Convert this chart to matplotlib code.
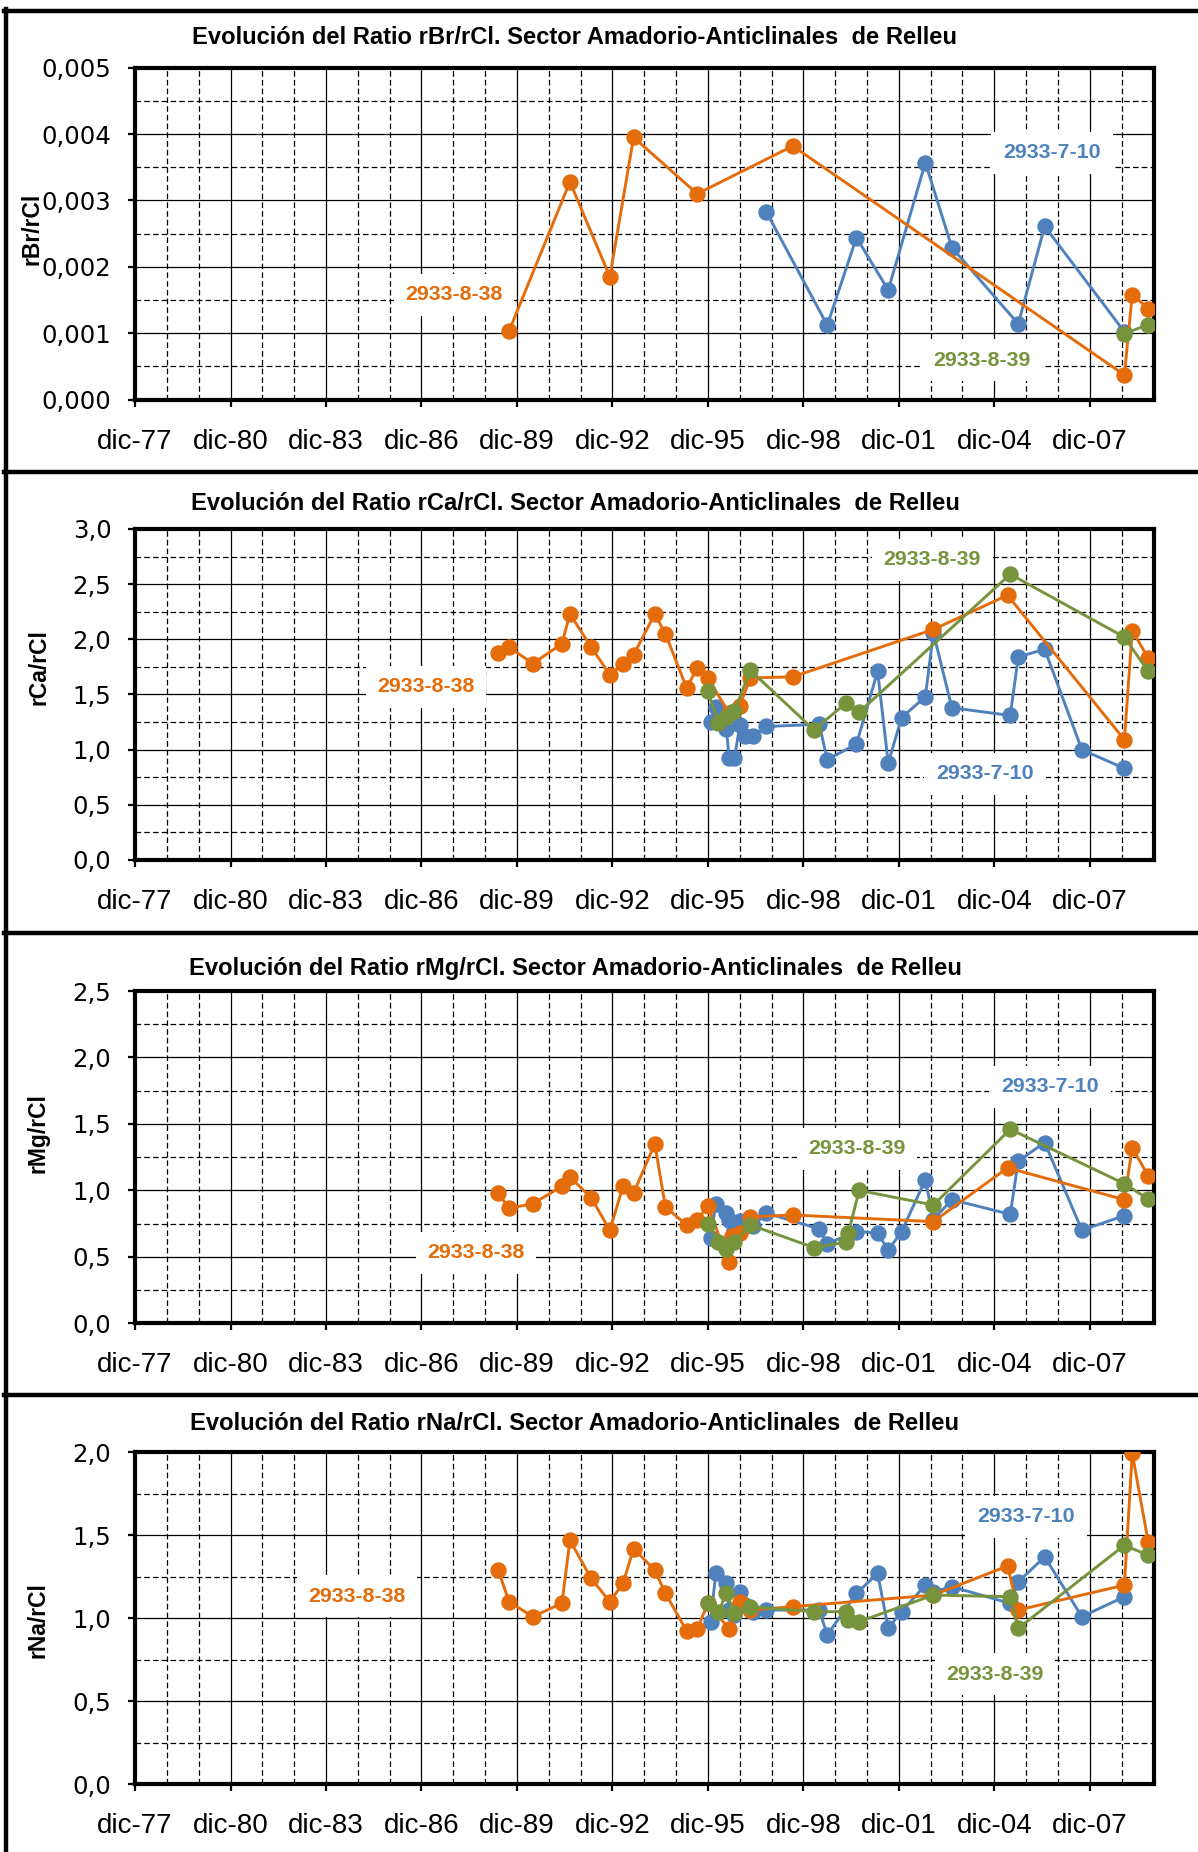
import matplotlib
matplotlib.use("Agg")
import matplotlib.pyplot as plt
import matplotlib.dates as mdates
from matplotlib.ticker import MultipleLocator, FuncFormatter, FixedLocator
from matplotlib.lines import Line2D
import pandas as pd

# ---------------------------------------------------------------- data
WELLS = ["2933-7-10", "2933-8-38", "2933-8-39"]
COLORS = {"2933-7-10": "#4F81BD", "2933-8-38": "#E46C0A", "2933-8-39": "#77933C"}

# rBr/rCl
br_710_dates = ["1997-10", "1999-09", "2000-08", "2001-08", "2002-10", "2003-08",
                "2005-09", "2006-07", "2009-01"]
br_710 = [0.00283, 0.00112, 0.00244, 0.00165, 0.00357, 0.00229, 0.00114, 0.00261, 0.00102]
br_838_dates = ["1989-09", "1991-08", "1992-11", "1993-08", "1995-08", "1998-08",
                "2009-01", "2009-04", "2009-10"]
br_838 = [0.00103, 0.00328, 0.00185, 0.00395, 0.00310, 0.00382, 0.00037, 0.00158, 0.00137]
br_839_dates = ["2009-01", "2009-10"]
br_839 = [0.00099, 0.00113]

# sampling dates shared by the major-ion ratios
dates_710 = ["1996-01", "1996-03", "1996-07", "1996-08", "1996-10", "1996-12", "1997-02",
             "1997-05", "1997-10", "1999-06", "1999-09", "2000-08", "2001-04", "2001-08",
             "2002-01", "2002-10", "2003-01", "2003-08", "2005-06", "2005-09", "2006-07",
             "2007-09", "2009-01"]
ca_710 = [1.25, 1.39, 1.19, 0.92, 0.92, 1.22, 1.12, 1.12, 1.21, 1.23, 0.91, 1.05, 1.71, 0.88,
          1.29, 1.48, 2.06, 1.38, 1.31, 1.84, 1.91, 1.00, 0.83]
mg_710 = [0.64, 0.90, 0.83, 0.78, 0.70, 0.77, 0.73, 0.73, 0.83, 0.71, 0.60, 0.69, 0.68, 0.55,
          0.69, 1.08, 0.78, 0.93, 0.82, 1.22, 1.36, 0.70, 0.81]
na_710 = [0.98, 1.27, 1.215, 1.05, 1.02, 1.16, 1.08, 1.04, 1.05, 1.05, 0.90, 1.15, 1.27, 0.94,
          1.04, 1.20, 1.16, 1.19, 1.09, 1.22, 1.37, 1.01, 1.13]

ca_838_dates = ["1989-05", "1989-09", "1990-06", "1991-05", "1991-08", "1992-04", "1992-11",
                "1993-04", "1993-08", "1994-04", "1994-08", "1995-04", "1995-08", "1995-12",
                "1996-08", "1996-12", "1997-04", "1998-08", "2003-01", "2005-05", "2009-01",
                "2009-04", "2009-10"]
ca_838 = [1.88, 1.93, 1.78, 1.96, 2.23, 1.93, 1.68, 1.78, 1.86, 2.23, 2.05, 1.56, 1.74, 1.65,
          1.33, 1.40, 1.65, 1.66, 2.09, 2.40, 1.09, 2.08, 1.83]
mg_838_dates = ["1989-05", "1989-09", "1990-06", "1991-05", "1991-08", "1992-04", "1992-11",
                "1993-04", "1993-08", "1994-04", "1994-08", "1995-04", "1995-08", "1995-12",
                "1996-08", "1996-09", "1996-12", "1997-04", "1998-08", "2003-01", "2005-05",
                "2009-01", "2009-04", "2009-10"]
mg_838 = [0.98, 0.865, 0.90, 1.03, 1.10, 0.945, 0.70, 1.03, 0.98, 1.35, 0.875, 0.74, 0.78, 0.88,
          0.46, 0.66, 0.68, 0.80, 0.815, 0.765, 1.17, 0.93, 1.32, 1.11]
na_838_dates = ["1989-05", "1989-09", "1990-06", "1991-05", "1991-08", "1992-04", "1992-11",
                "1993-04", "1993-08", "1994-04", "1994-08", "1995-04", "1995-08", "1995-12",
                "1996-08", "1996-12", "1997-04", "1998-08", "2003-01", "2005-05", "2005-09",
                "2009-01", "2009-04", "2009-10"]
na_838 = [1.29, 1.10, 1.01, 1.09, 1.47, 1.24, 1.10, 1.21, 1.42, 1.29, 1.15, 0.925, 0.935, 1.09,
          0.935, 1.10, 1.05, 1.07, 1.14, 1.315, 1.05, 1.20, 1.995, 1.46]

ca_839_dates = ["1995-12", "1996-04", "1996-07", "1996-10", "1997-04", "1999-04", "2000-04",
                "2000-09", "2005-06", "2009-01", "2009-10"]
ca_839 = [1.53, 1.24, 1.30, 1.35, 1.72, 1.18, 1.42, 1.34, 2.59, 2.02, 1.71]
mg_839_dates = ["1995-12", "1996-04", "1996-07", "1996-10", "1997-04", "1999-04", "2000-04",
                "2000-05", "2000-09", "2003-01", "2005-06", "2009-01", "2009-10"]
mg_839 = [0.75, 0.61, 0.56, 0.61, 0.74, 0.57, 0.61, 0.68, 1.00, 0.89, 1.46, 1.05, 0.935]
na_839_dates = ["1995-12", "1996-04", "1996-07", "1996-10", "1997-04", "1999-04", "2000-04",
                "2000-05", "2000-09", "2003-01", "2005-06", "2005-09", "2009-01", "2009-10"]
na_839 = [1.09, 1.04, 1.15, 1.03, 1.07, 1.04, 1.04, 0.99, 0.98, 1.14, 1.13, 0.94, 1.44, 1.38]

TITLE = "Evolución del Ratio {}. Sector Amadorio-Anticlinales  de Relleu"
PANELS = [
    dict(ratio="rBr/rCl", ymax=0.005, major=0.001, minor=0.0005, decimals=3,
         series={"2933-7-10": (br_710_dates, br_710),
                 "2933-8-38": (br_838_dates, br_838),
                 "2933-8-39": (br_839_dates, br_839)},
         box=(67.7, 399.5), title_y=37, ylabel_xy=(32, 229),
         tags={"2933-8-38": (454, 295), "2933-7-10": (1052, 153), "2933-8-39": (982, 360)}),
    dict(ratio="rCa/rCl", ymax=3.0, major=0.5, minor=0.25, decimals=1,
         series={"2933-7-10": (dates_710, ca_710),
                 "2933-8-38": (ca_838_dates, ca_838),
                 "2933-8-39": (ca_839_dates, ca_839)},
         box=(529, 860), title_y=503, ylabel_xy=(39, 667),
         tags={"2933-8-39": (932, 560), "2933-8-38": (426, 687), "2933-7-10": (985, 774)}),
    dict(ratio="rMg/rCl", ymax=2.5, major=0.5, minor=0.25, decimals=1,
         series={"2933-7-10": (dates_710, mg_710),
                 "2933-8-38": (mg_838_dates, mg_838),
                 "2933-8-39": (mg_839_dates, mg_839)},
         box=(991, 1323.3), title_y=969, ylabel_xy=(38, 1133),
         tags={"2933-7-10": (1050, 1087), "2933-8-39": (857, 1149), "2933-8-38": (476, 1253)}),
    dict(ratio="rNa/rCl", ymax=2.0, major=0.5, minor=0.25, decimals=1,
         series={"2933-7-10": (dates_710, na_710),
                 "2933-8-38": (na_838_dates, na_838),
                 "2933-8-39": (na_839_dates, na_839)},
         box=(1452.3, 1784.3), title_y=1424, ylabel_xy=(38, 1620),
         tags={"2933-7-10": (1026, 1517), "2933-8-38": (357, 1596), "2933-8-39": (995, 1674)}),
]

# ---------------------------------------------------------------- layout
W, H = 1198, 1852
LEFT, RIGHT = 135, 1153.5
fig = plt.figure(figsize=(W / 100, H / 100), dpi=100)
fig.patch.set_facecolor("white")

X0 = mdates.date2num(pd.Timestamp("1977-12-01"))
X1 = mdates.date2num(pd.Timestamp("2009-12-01"))
major_x = mdates.date2num(pd.date_range("1977-12-01", "2007-12-01", freq="36MS"))
minor_x = mdates.date2num(pd.date_range("1977-12-01", "2009-12-01", freq="12MS"))

SANS = "Liberation Sans"


def fx(x):
    return x / W


def fy(y):
    return 1 - y / H


for p in PANELS:
    top, bottom = p["box"]
    ax = fig.add_axes([fx(LEFT), fy(bottom), (RIGHT - LEFT) / W, (bottom - top) / H])
    ax.set_axisbelow(True)

    for well in WELLS:
        d, v = p["series"][well]
        ax.plot(mdates.date2num(pd.to_datetime(d)), v, color=COLORS[well], lw=2.1,
                marker="o", ms=10.8, mec=COLORS[well], mfc=COLORS[well], zorder=3)

    ax.set_xlim(X0, X1)
    ax.set_ylim(0, p["ymax"])
    ax.xaxis.set_major_locator(FixedLocator(major_x))
    ax.xaxis.set_minor_locator(FixedLocator(minor_x))
    ax.xaxis.set_major_formatter(
        FuncFormatter(lambda x, _: "dic-" + mdates.num2date(x).strftime("%y")))
    ax.yaxis.set_major_locator(MultipleLocator(p["major"]))
    ax.yaxis.set_minor_locator(MultipleLocator(p["minor"]))
    dec = p["decimals"]
    ax.yaxis.set_major_formatter(
        FuncFormatter(lambda v, _, dec=dec: f"{v:.{dec}f}".replace(".", ",")))

    ax.grid(True, which="major", color="black", lw=0.9, ls="-")
    ax.grid(True, which="minor", color="black", lw=0.9, ls=(0, (4.5, 2.5)))

    for s in ax.spines.values():
        s.set_linewidth(3.0)
        s.set_color("black")

    ax.tick_params(which="major", direction="out", length=5, width=1.6, color="black")
    ax.tick_params(which="minor", length=0)
    ax.tick_params(axis="x", labelsize=20, pad=16, labelfontfamily=SANS)
    ax.tick_params(axis="y", labelsize=17.6, pad=12, labelfontfamily="DejaVu Sans")

    # series tags with white backgrounds
    for well, (tx, ty) in p["tags"].items():
        ax.text((tx - LEFT) / (RIGHT - LEFT), (bottom - ty) / (bottom - top), well,
                transform=ax.transAxes, ha="center", va="center", color=COLORS[well],
                fontsize=15.4, fontweight="bold", family=SANS, zorder=6,
                bbox=dict(boxstyle="square,pad=0.55", facecolor="white", edgecolor="none"))

    fig.text(fx(575), fy(p["title_y"]), TITLE.format(p["ratio"]), ha="center", va="center",
             fontsize=17.1, fontweight="bold", family=SANS)
    lx, ly = p["ylabel_xy"]
    fig.text(fx(lx), fy(ly), p["ratio"], rotation=90, ha="center", va="center",
             fontsize=16.5, fontweight="bold", family=SANS)

# chart-area frames
fig.add_artist(Line2D([fx(6), fx(6)], [fy(9), 0], transform=fig.transFigure,
                      color="black", lw=3.2))
for yline in (11, 471.5, 933, 1395):
    fig.add_artist(Line2D([fx(4), 1], [fy(yline), fy(yline)], transform=fig.transFigure,
                          color="black", lw=3.2))

fig.savefig("out.png", dpi=100, facecolor="white")
